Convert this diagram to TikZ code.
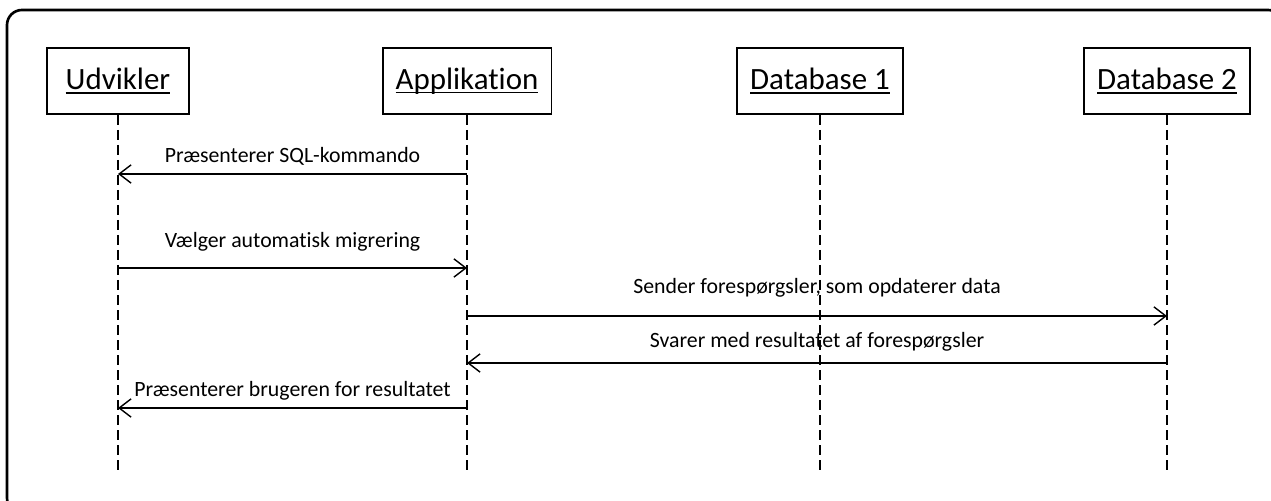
\documentclass[tikz,border=0pt]{standalone}
\usepackage{fontspec}
\setmainfont{Carlito}[Ligatures={NoCommon,NoContextual}]
\usepackage{tikz}
\usetikzlibrary{arrows.meta}
\newcommand{\squl}[1]{\setbox0\hbox{#1}\rlap{\rule[-1.2pt]{\wd0}{0.45pt}}\box0}
\tikzset{
  >={Straight Barb[length=3.4pt,width=5.2pt]},
  sqframe/.style={line width=0.75pt, rounded corners=0.15cm},
  sqactor/.style={draw, line width=0.5pt, minimum height=0.66cm,
                  minimum width=1.42cm, inner xsep=0.13cm,
                  font=\fontsize{8.8}{10}\selectfont},
  sqlife/.style={line width=0.45pt, dash pattern=on 0.1cm off 0.05cm},
  sqmsg/.style={->, line width=0.4pt},
  sqlbl/.style={font=\fontsize{6.2}{7}\selectfont, anchor=base, inner sep=0pt},
}

\begin{document}
\begin{tikzpicture}[x=0.01cm,y=-0.01cm]

  \useasboundingbox (0,0) rectangle (1271,501);
  \clip (0,0) rectangle (1271,501);

  % ramme
  \draw[sqframe] (7,10) rectangle (1283,513);

  % deltagere
  \node[sqactor] (udv) at (118,81) {\squl{Udvikler}};
  \node[sqactor] (app) at (467,81) {\squl{Applikation}};
  \node[sqactor] (db1) at (820,81) {\squl{Database 1}};
  \node[sqactor] (db2) at (1167,81) {\squl{Database 2}};

  % livslinjer
  \foreach \p in {udv,app,db1,db2} {
    \coordinate (\p-end) at (\p |- 0,472);
    \draw[sqlife] (\p) -- (\p-end);
  }

  % beskeder
  \coordinate (m1a) at (app |- 0,174);
  \coordinate (m1b) at (udv |- 0,174);
  \draw[sqmsg] (m1a) -- node[sqlbl, yshift=0.11cm] (l1) {Præsenterer SQL-kommando} (m1b);

  \coordinate (m2a) at (udv |- 0,268);
  \coordinate (m2b) at (app |- 0,268);
  \draw[sqmsg] (m2a) -- node[sqlbl, yshift=0.20cm] (l2) {Vælger automatisk migrering} (m2b);

  \coordinate (m3a) at (app |- 0,316);
  \coordinate (m3b) at (db2 |- 0,316);
  \draw[sqmsg] (m3a) -- node[sqlbl, yshift=0.22cm] (l3) {Sender forespørgsler, som opdaterer data} (m3b);

  \coordinate (m4a) at (db2 |- 0,363);
  \coordinate (m4b) at (app |- 0,363);
  \draw[sqmsg] (m4a) -- node[sqlbl, yshift=0.15cm] (l4) {Svarer med resultatet af forespørgsler} (m4b);

  \coordinate (m5a) at (app |- 0,408);
  \coordinate (m5b) at (udv |- 0,408);
  \draw[sqmsg] (m5a) -- node[sqlbl, yshift=0.11cm] (l5) {Præsenterer brugeren for resultatet} (m5b);

\end{tikzpicture}
\end{document}
